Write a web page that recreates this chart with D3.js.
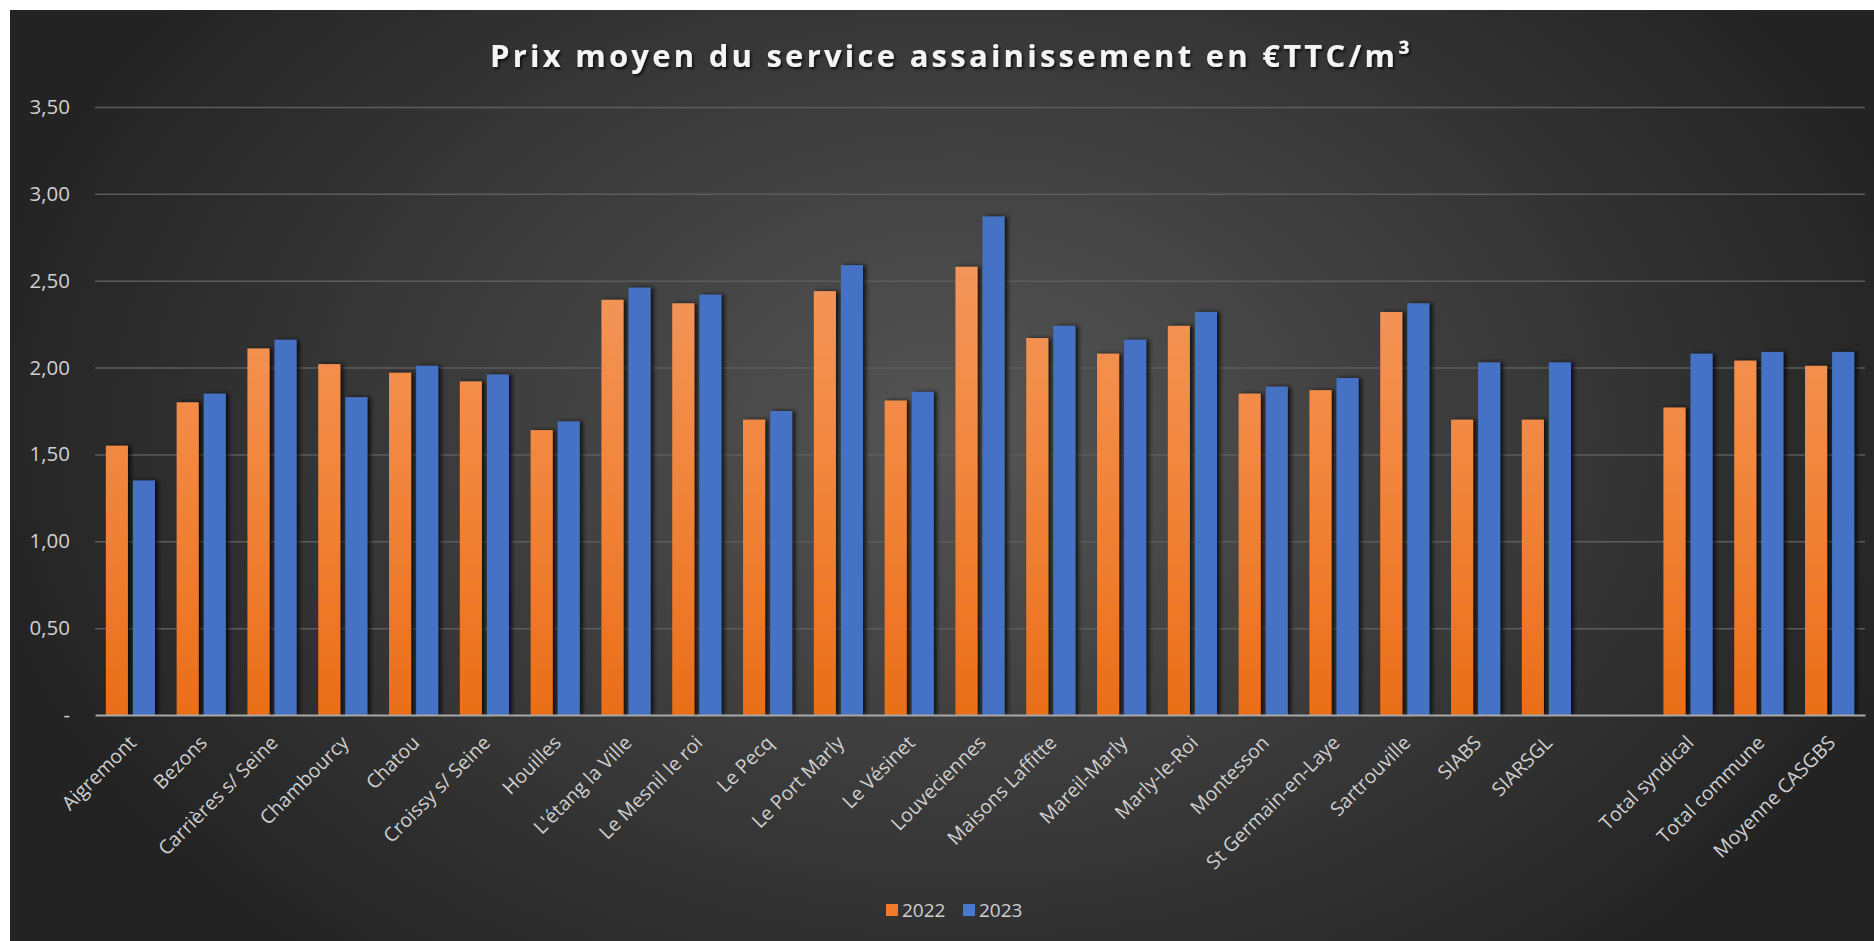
<!DOCTYPE html>
<html>
<head>
<meta charset="utf-8">
<script src="https://cdn.jsdelivr.net/npm/d3@7"></script>
<style>
  html, body { margin: 0; padding: 0; background: #ffffff; }
  svg { display: block; }
</style>
</head>
<body>
<svg id="chart" width="1874" height="941"></svg>
<script>
// ---- Data ----
const categories = [
  "Aigremont", "Bezons", "Carrières s/ Seine", "Chambourcy", "Chatou",
  "Croissy s/ Seine", "Houilles", "L'étang la Ville", "Le Mesnil le roi", "Le Pecq",
  "Le Port Marly", "Le Vésinet", "Louveciennes", "Maisons Laffitte", "Mareil-Marly",
  "Marly-le-Roi", "Montesson", "St Germain-en-Laye", "Sartrouville", "SIABS",
  "SIARSGL", "", "Total syndical", "Total commune", "Moyenne CASGBS"
];
const values2022 = [
  1.55, 1.80, 2.11, 2.02, 1.97,
  1.92, 1.64, 2.39, 2.37, 1.70,
  2.44, 1.81, 2.58, 2.17, 2.08,
  2.24, 1.85, 1.87, 2.32, 1.70,
  1.70, null, 1.77, 2.04, 2.01
];
const values2023 = [
  1.35, 1.85, 2.16, 1.83, 2.01,
  1.96, 1.69, 2.46, 2.42, 1.75,
  2.59, 1.86, 2.87, 2.24, 2.16,
  2.32, 1.89, 1.94, 2.37, 2.03,
  2.03, null, 2.08, 2.09, 2.09
];
const seriesNames = ["2022", "2023"];
const yTicks = [0, 0.5, 1, 1.5, 2, 2.5, 3, 3.5];
const titleText = "Prix moyen du service assainissement en €TTC/m³";

// ---- Setup ----
const svg = d3.select("#chart");
const W = 1874, H = 941;
const plot = { left: 95, right: 1865, top: 107, bottom: 715 };
const font = "'Open Sans', 'Liberation Sans', sans-serif";

const defs = svg.append("defs");
const bg = defs.append("radialGradient").attr("id", "bgGrad")
  .attr("gradientUnits", "userSpaceOnUse")
  .attr("cx", 960).attr("cy", 430).attr("r", 1000)
  .attr("gradientTransform", "translate(960,430) scale(1,0.7) translate(-960,-430)");
bg.append("stop").attr("offset", "0%").attr("stop-color", "#555555");
bg.append("stop").attr("offset", "50%").attr("stop-color", "#3c3c3c");
bg.append("stop").attr("offset", "100%").attr("stop-color", "#232323");

const og = defs.append("linearGradient").attr("id", "orangeGrad")
  .attr("gradientUnits", "userSpaceOnUse")
  .attr("x1", 0).attr("y1", 200).attr("x2", 0).attr("y2", plot.bottom);
og.append("stop").attr("offset", "0%").attr("stop-color", "#f39b66");
og.append("stop").attr("offset", "50%").attr("stop-color", "#f2873f");
og.append("stop").attr("offset", "100%").attr("stop-color", "#ea6e18");

const sh = defs.append("filter").attr("id", "barShadow")
  .attr("x", "-30%").attr("y", "-10%").attr("width", "180%").attr("height", "120%");
sh.append("feDropShadow").attr("dx", 3).attr("dy", 0).attr("stdDeviation", 2)
  .attr("flood-color", "#000").attr("flood-opacity", 0.75);

const tsh = defs.append("filter").attr("id", "textShadow")
  .attr("x", "-5%").attr("y", "-30%").attr("width", "110%").attr("height", "160%");
tsh.append("feDropShadow").attr("dx", 1.5).attr("dy", 2).attr("stdDeviation", 1.5)
  .attr("flood-color", "#000").attr("flood-opacity", 0.8);

// background
svg.append("rect").attr("x", 10).attr("y", 10).attr("width", W - 10).attr("height", H - 10)
  .attr("fill", "url(#bgGrad)");

// ---- Scales ----
const x = d3.scaleBand().domain(categories.map((c, i) => i)).range([plot.left, plot.right])
  .paddingInner(0).paddingOuter(0);
const xs = d3.scaleBand().domain(seriesNames).range([0, x.bandwidth()])
  .paddingInner(0.185).paddingOuter(0.4);
const y = d3.scaleLinear().domain([0, 3.5]).range([plot.bottom, plot.top]);
const color = { "2022": "url(#orangeGrad)", "2023": "#4472c4" };
const legendColor = { "2022": "#f07a2a", "2023": "#4a78d0" };

// ---- Gridlines ----
const yAxis = d3.axisLeft(y).tickValues(yTicks)
  .tickSize(-(plot.right - plot.left))
  .tickFormat(d => d === 0 ? "-" : d3.format(".2f")(d).replace(".", ","));
const gy = svg.append("g").attr("transform", `translate(${plot.left},0)`).call(yAxis);
gy.select(".domain").remove();
gy.selectAll(".tick line").attr("stroke", "#5c5c5c").attr("stroke-width", 1.5)
  .attr("opacity", d => d === 0 ? 0 : 1);
gy.selectAll(".tick text").attr("x", -25).attr("fill", "#d0d0d0")
  .style("font-family", font).style("font-size", "20.5px");

// ---- Bars ----
const rows = categories.map((c, i) => ({ i, vals: [
  { s: "2022", v: values2022[i] }, { s: "2023", v: values2023[i] }
]}));
const groups = svg.append("g").selectAll("g").data(rows).join("g")
  .attr("transform", d => `translate(${x(d.i)},0)`);
groups.selectAll("rect").data(d => d.vals.filter(e => e.v != null)).join("rect")
  .attr("x", d => xs(d.s))
  .attr("width", xs.bandwidth())
  .attr("y", d => y(d.v))
  .attr("height", d => y(0) - y(d.v))
  .attr("fill", d => color[d.s])
  .attr("filter", "url(#barShadow)");

// ---- X axis ----
const xAxis = d3.axisBottom(x).tickSize(0).tickFormat(i => categories[i]);
const gx = svg.append("g").attr("transform", `translate(0,${plot.bottom})`).call(xAxis);
gx.select(".domain").attr("stroke", "#a8a8a8").attr("stroke-width", 2);
gx.selectAll(".tick text")
  .attr("fill", "#d0d0d0")
  .style("font-family", font).style("font-size", "19.5px")
  .attr("text-anchor", "end")
  .attr("dy", "0")
  .attr("y", 0)
  .attr("transform", "translate(7,29) rotate(-45)");

// ---- Title ----
svg.append("text")
  .attr("x", 950).attr("y", 67)
  .attr("text-anchor", "middle")
  .attr("fill", "#f4f4f4")
  .attr("filter", "url(#textShadow)")
  .attr("textLength", 920).attr("lengthAdjust", "spacing")
  .style("font-family", font).style("font-weight", "bold").style("font-size", "31px")
  .text(titleText);

// ---- Legend ----
const legend = svg.append("g");
const legendX = { "2022": 886, "2023": 963 };
seriesNames.forEach(s => {
  legend.append("rect").attr("x", legendX[s]).attr("y", 904).attr("width", 12).attr("height", 12)
    .attr("fill", legendColor[s]);
  legend.append("text").attr("x", legendX[s] + 16).attr("y", 917)
    .attr("fill", "#d0d0d0")
    .style("font-family", font).style("font-size", "19px")
    .text(s);
});
</script>
</body>
</html>
